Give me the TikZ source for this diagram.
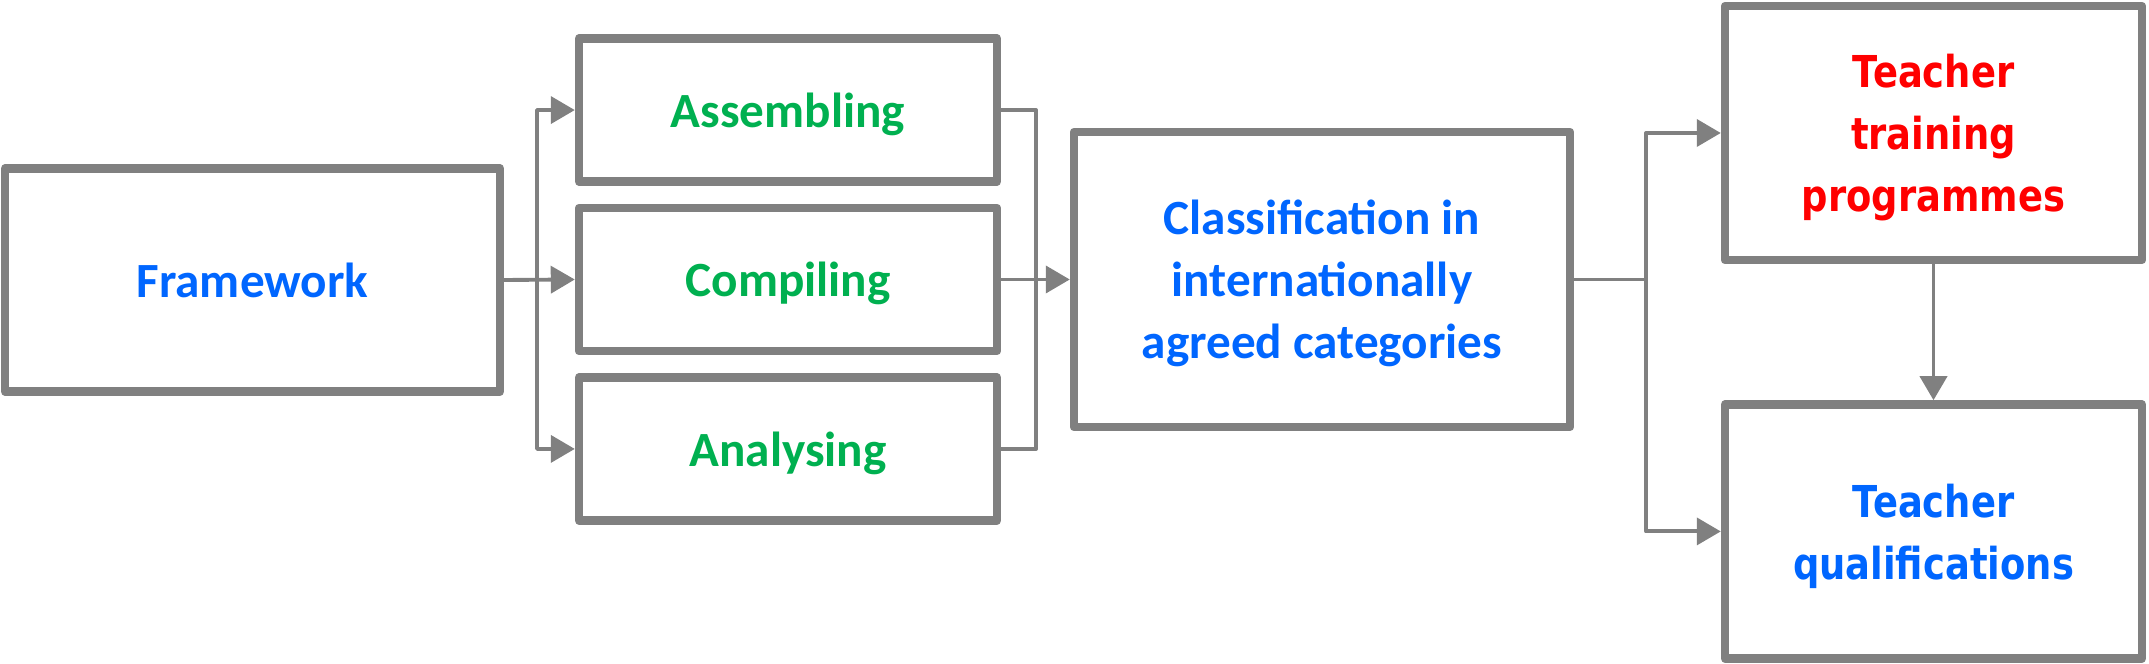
\documentclass[tikz,border=0pt]{standalone}
\usepackage{fontspec}
\setmainfont{Carlito}
\newfontfamily\widefont{DejaVu Sans}[FakeStretch=0.84]
\usetikzlibrary{positioning,arrows.meta,calc}

\definecolor{boxgray}{RGB}{128,128,128}
\definecolor{txtblue}{RGB}{0,102,255}
\definecolor{txtgreen}{RGB}{0,176,80}
\definecolor{txtred}{RGB}{255,0,0}

\begin{document}
\begin{tikzpicture}[
    >={Triangle[length=0.24cm, width=0.27cm]},
    line join=round,
    conn/.style={draw=boxgray, line width=1.1pt},
    block/.style={draw=boxgray, line width=2.4pt, rectangle, align=center, text depth=0pt, minimum width=4.18cm, minimum height=1.43cm, text=txtgreen, font=\bfseries\fontsize{14}{17.6}\selectfont},
    bigblock/.style={draw=boxgray, line width=2.4pt, rectangle, align=center, text depth=0pt, text=txtblue, font=\bfseries\fontsize{14}{17.6}\selectfont},
    endblock/.style={bigblock, minimum width=4.17cm, minimum height=2.54cm, font=\widefont\bfseries\fontsize{12.5}{17.6}\selectfont}
]
    \useasboundingbox (0,0) rectangle (21.49,6.64);

    \node[bigblock, minimum width=4.95cm, minimum height=2.23cm] (Frame) at (2.525,3.84) {Framework};

    \node[block] (Comp) at (7.88,3.845) {Compiling};
    \node[block, above=0.18cm of Comp] (Asm) {Assembling};
    \node[block, below=0.18cm of Comp] (Ana) {Analysing};

    \node[bigblock, minimum width=4.96cm, minimum height=2.95cm] (Class) at (13.22,3.845)
        {Classification in\\internationally\\agreed categories};

    \node[endblock, text=txtred] (Train) at (19.335,5.31) {Teacher\\training\\programmes};
    \node[endblock, below=1.36cm of Train] (Qual) {Teacher\\qualifications};


    \coordinate (LeftLine)  at ( 5.37, 0);
    \coordinate (RightLine) at (10.36, 0);
    \coordinate (MidLine)   at (16.46, 0);


    \draw[conn, ->] (Frame.east) -- (Comp.west);
    \draw[conn, ->] (Frame.east -| LeftLine) |- (Asm.west);
    \draw[conn, ->] (Frame.east -| LeftLine) |- (Ana.west);

    \draw[conn] (Asm.east) -| (Comp.east -| RightLine);
    \draw[conn] (Ana.east) -| (Comp.east -| RightLine);
    \draw[conn, ->] (Comp.east) -- (Class.west);

    \draw[conn] (Class.east) -- (Class.east -| MidLine) coordinate (split);
    \draw[conn, ->] (split) |- (Train.west);
    \draw[conn, ->] (split) |- (Qual.west);

    \draw[conn, ->] (Train.south) -- (Qual.north);

\end{tikzpicture}
\end{document}
